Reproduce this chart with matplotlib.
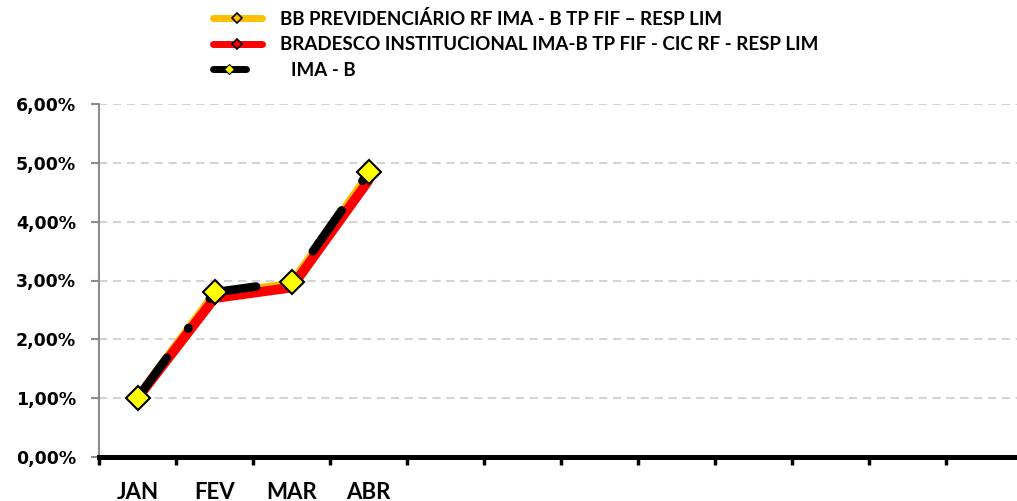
import numpy as np
import matplotlib
matplotlib.use("Agg")
import matplotlib.pyplot as plt
from matplotlib.lines import Line2D
from matplotlib.ticker import FuncFormatter

plt.rcParams['font.family'] = ['Lato', 'DejaVu Sans']
plt.rcParams['font.weight'] = 'bold'
plt.rcParams['lines.scale_dashes'] = False

months = ['JAN', 'FEV', 'MAR', 'ABR', 'MAI', 'JUN', 'JUL', 'AGO', 'SET', 'OUT', 'NOV', 'DEZ']
shown_labels = ['JAN', 'FEV', 'MAR', 'ABR', '', '', '', '', '', '', '', '']

bb_name = 'BB PREVIDENCIÁRIO RF IMA - B TP FIF – RESP LIM'
brad_name = 'BRADESCO INSTITUCIONAL IMA-B TP FIF - CIC RF - RESP LIM'
ima_name = 'IMA - B'

# rentabilidade acumulada (%)
bb_vals = [1.00, 2.76, 2.93, 4.78]
brad_vals = [1.00, 2.70, 2.88, 4.70]
ima_vals = [1.00, 2.80, 2.98, 4.84]

yticks = [0, 1, 2, 3, 4, 5, 6]

fig = plt.figure(figsize=(10.17, 5.01), dpi=100)
ax = fig.add_axes([99 / 1017, 44 / 501, 924 / 1017, 353 / 501])

x = np.arange(len(bb_vals))
ax.plot(x, bb_vals, color='#FFC000', lw=7, solid_capstyle='round', zorder=3)
ax.plot(x, brad_vals, color='#FF0000', lw=7, solid_capstyle='round', zorder=4)
ax.plot(x, ima_vals, color='black', lw=6.2, dash_capstyle='round',
        dashes=(36, 26, 0.5, 26), zorder=5)
ax.plot(x, ima_vals, ls='none', marker='D', ms=12, mfc='#FFFF00', mec='black',
        mew=1.5, zorder=6)

ax.set_xlim(-0.5, 11.5)
ax.set_ylim(0, 6)

ax.set_yticks(yticks)
ax.yaxis.set_major_formatter(FuncFormatter(lambda v, p: f'{v:.2f}%'.replace('.', ',')))
ax.yaxis.grid(True, color='#d4d4d4', lw=1.5, dashes=(6, 4))
ax.set_axisbelow(True)
ax.tick_params(axis='y', length=5.5, width=1.5, color='#8c8c8c', pad=11, labelsize=12.5)
for lbl in ax.get_yticklabels():
    lbl.set_family('DejaVu Sans')

ax.set_xticks(np.arange(12))
ax.set_xticklabels(shown_labels)
ax.set_xticks(np.arange(-0.5, 12, 1), minor=True)
ax.tick_params(axis='x', which='major', length=0, pad=18, labelsize=16)
ax.tick_params(axis='x', which='minor', length=6, width=2.5, color='black')

for s in ['top', 'right']:
    ax.spines[s].set_visible(False)
ax.spines['left'].set_color('#8c8c8c')
ax.spines['left'].set_linewidth(1.5)
ax.spines['bottom'].set_color('black')
ax.spines['bottom'].set_linewidth(3.6)
ax.spines['bottom'].set_zorder(7)

h_bb = Line2D([], [], color='#FFC000', lw=5, solid_capstyle='round', marker='D', ms=5.5,
              mfc='#FFC000', mec='black', mew=1.2)
h_brad = Line2D([], [], color='#FF0000', lw=5, solid_capstyle='round', marker='D', ms=5.5,
                mfc='#FF0000', mec='black', mew=1.2)
h_ima = Line2D([], [], color='black', lw=5, solid_capstyle='round', marker='D', ms=5.5,
               mfc='#FFFF00', mec='black', mew=0.8)

leg1 = fig.legend([h_bb, h_brad], [bb_name, brad_name], loc='upper left',
                  bbox_to_anchor=(213 / 1017, 1 - 10 / 501), frameon=False, fontsize=13.5,
                  handlelength=2.6, handletextpad=1.0, labelspacing=0.44, borderpad=0,
                  borderaxespad=0)
fig.legend([h_ima], [ima_name], loc='upper left',
           bbox_to_anchor=(213 / 1017, 1 - 62 / 501), frameon=False, fontsize=13.5,
           handlelength=1.75, handletextpad=2.4, borderpad=0, borderaxespad=0)

fig.savefig('out.png', dpi=100)
